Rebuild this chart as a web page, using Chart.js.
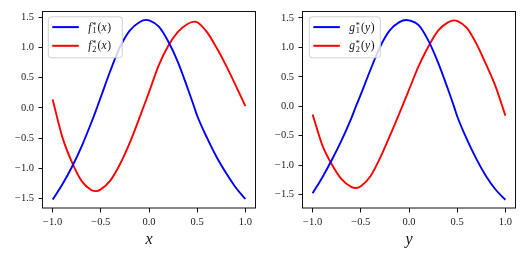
<!DOCTYPE html>
<html><head><meta charset="utf-8">
<script src="https://cdn.jsdelivr.net/npm/chart.js@4/dist/chart.umd.min.js"></script>
<style>
html,body{margin:0;padding:0;background:#fff;overflow:hidden;width:523px;height:257px}
canvas{position:absolute;top:0}
#c1{left:0}
#c2{left:260px}
</style>
</head><body>
<canvas id="c1" width="260" height="257"></canvas>
<canvas id="c2" width="263" height="257"></canvas>
<script>
// ---- data ----
const xValues = [-1.0,-0.9,-0.8,-0.7,-0.6,-0.55,-0.5,-0.4,-0.3,-0.2,-0.1,-0.03,0.0,0.1,0.2,0.3,0.4,0.47,0.5,0.6,0.7,0.8,0.9,1.0];
const f1Values = [-1.52,-1.27,-0.98,-0.64,-0.25,-0.04,0.18,0.62,1.01,1.28,1.42,1.458,1.45,1.35,1.10,0.76,0.33,0.01,-0.13,-0.49,-0.81,-1.08,-1.32,-1.51];
const f2Values = [0.14,-0.48,-0.90,-1.21,-1.36,-1.38,-1.35,-1.20,-0.93,-0.58,-0.17,0.13,0.26,0.70,1.03,1.26,1.39,1.43,1.42,1.26,1.00,0.70,0.37,0.03];
const g1Values = [-1.48,-1.21,-0.91,-0.58,-0.21,0.00,0.20,0.62,1.01,1.29,1.43,1.466,1.46,1.38,1.12,0.75,0.31,-0.02,-0.17,-0.56,-0.90,-1.19,-1.42,-1.59];
const g2Values = [-0.14,-0.66,-0.99,-1.24,-1.37,-1.39,-1.36,-1.19,-0.88,-0.51,-0.12,0.16,0.28,0.68,1.01,1.28,1.42,1.46,1.45,1.33,1.06,0.71,0.33,-0.16];
const xTickValues = [-1.0,-0.5,0.0,0.5,1.0];
const yTickValues = [-1.5,-1.0,-0.5,0.0,0.5,1.0,1.5];
const leftLabels = [{base:'f', sub:'1', arg:'x'}, {base:'f', sub:'2', arg:'x'}];
const rightLabels = [{base:'g', sub:'1', arg:'y'}, {base:'g', sub:'2', arg:'y'}];
const leftTitle = 'x';
const rightTitle = 'y';
const seriesColors = ['#0000ff', '#ff0000'];

const SERIF = '"Liberation Serif", "DejaVu Serif", serif';
const fmt = v => (v < 0 ? '\u2212' : '') + Math.abs(v).toFixed(1);

const framePlugin = {
  id: 'frame',
  afterDatasetsDraw(chart) {
    const ctx = chart.ctx, a = chart.chartArea;
    ctx.save();
    ctx.strokeStyle = '#111';
    ctx.lineWidth = 1;
    ctx.strokeRect(Math.round(a.left) - 0.5, Math.round(a.top) + 0.5,
                   Math.round(a.right - a.left) + 1, Math.round(a.bottom - a.top) - 0.5);
    ctx.restore();
  }
};

const mathLegend = {
  id: 'mathLegend',
  afterDraw(chart, args, opts) {
    const ctx = chart.ctx, a = chart.chartArea;
    const bx = a.left + opts.dx, by = a.top + 6, bw = opts.w, bh = 41, r = 3;
    ctx.save();
    ctx.beginPath();
    ctx.moveTo(bx + r, by);
    ctx.arcTo(bx + bw, by, bx + bw, by + bh, r);
    ctx.arcTo(bx + bw, by + bh, bx, by + bh, r);
    ctx.arcTo(bx, by + bh, bx, by, r);
    ctx.arcTo(bx, by, bx + bw, by, r);
    ctx.closePath();
    ctx.fillStyle = 'rgba(255,255,255,0.8)';
    ctx.fill();
    ctx.strokeStyle = '#d0d0d0';
    ctx.lineWidth = 1;
    ctx.stroke();
    chart.data.datasets.forEach((ds, i) => {
      const lab = opts.labels[i];
      const y = by + 10.3 + i * 18.7;
      ctx.strokeStyle = ds.borderColor;
      ctx.lineWidth = 2;
      ctx.beginPath();
      ctx.moveTo(bx + 4, y);
      ctx.lineTo(bx + 30.5, y);
      ctx.stroke();
      let x = bx + 40;
      const base = y + 3.6;
      const fs = 11.5;
      ctx.fillStyle = '#111';
      ctx.textBaseline = 'alphabetic';
      ctx.textAlign = 'left';
      ctx.font = 'italic ' + fs + 'px ' + SERIF;
      ctx.fillText(lab.base, x, base);
      x += ctx.measureText(lab.base).width + 0.8;
      ctx.font = (fs * 0.72) + 'px ' + SERIF;
      ctx.fillText('*', x, base - 3.2);
      ctx.fillText(lab.sub, x, base + 2.6);
      x += Math.max(ctx.measureText('*').width, ctx.measureText(lab.sub).width) + 1;
      ctx.font = fs + 'px ' + SERIF;
      ctx.fillText('(', x, base);
      x += ctx.measureText('(').width + 0.3;
      ctx.font = 'italic ' + fs + 'px ' + SERIF;
      ctx.fillText(lab.arg, x, base);
      x += ctx.measureText(lab.arg).width + 0.6;
      ctx.font = fs + 'px ' + SERIF;
      ctx.fillText(')', x, base);
    });
    ctx.restore();
  }
};

function makeChart(id, s1, s2, names, labels, title, yMin, yMax, padRight, legendDx, legendW) {
  const pts = arr => xValues.map((x, i) => ({x: x, y: arr[i]}));
  return new Chart(document.getElementById(id), {
    type: 'line',
    data: {
      datasets: [
        {label: names[0], data: pts(s1), borderColor: seriesColors[0], backgroundColor: seriesColors[0],
         borderWidth: 1.9, pointRadius: 0, cubicInterpolationMode: 'monotone', fill: false},
        {label: names[1], data: pts(s2), borderColor: seriesColors[1], backgroundColor: seriesColors[1],
         borderWidth: 1.9, pointRadius: 0, cubicInterpolationMode: 'monotone', fill: false}
      ]
    },
    options: {
      responsive: false,
      animation: false,
      devicePixelRatio: 1,
      layout: {padding: {left: 0, right: padRight, top: 8, bottom: 0}},
      plugins: {
        legend: {display: false},
        tooltip: {enabled: false},
        mathLegend: {labels: labels, dx: legendDx, w: legendW}
      },
      scales: {
        x: {
          type: 'linear', min: -1.1, max: 1.1,
          afterBuildTicks: s => { s.ticks = xTickValues.map(v => ({value: v})); },
          afterFit: s => { s.height = 49; },
          ticks: {callback: v => fmt(v), font: {family: SERIF, size: 10.5}, color: '#222', padding: 3, maxRotation: 0, autoSkip: false},
          grid: {drawOnChartArea: false, drawTicks: true, tickLength: 4.5, color: '#111', lineWidth: 1},
          border: {display: false},
          title: {display: true, text: title, font: {family: SERIF, size: 16, style: 'italic'}, color: '#111', padding: {top: 0, bottom: 8}}
        },
        y: {
          type: 'linear', min: yMin, max: yMax,
          afterBuildTicks: s => { s.ticks = yTickValues.map(v => ({value: v})); },
          afterFit: s => { s.width = 43; },
          ticks: {callback: v => fmt(v), font: {family: SERIF, size: 10.5}, color: '#222', padding: 4.5, autoSkip: false},
          grid: {drawOnChartArea: false, drawTicks: true, tickLength: 4.5, color: '#111', lineWidth: 1},
          border: {display: false}
        }
      }
    },
    plugins: [framePlugin, mathLegend]
  });
}

makeChart('c1', f1Values, f2Values, ['f\u2081*(x)', 'f\u2082*(x)'], leftLabels, leftTitle, -1.659, 1.609, 5, 5.3, 74);
makeChart('c2', g1Values, g2Values, ['g\u2081*(y)', 'g\u2082*(y)'], rightLabels, rightTitle, -1.730, 1.622, 8, 6.3, 71);
</script>
</body></html>
